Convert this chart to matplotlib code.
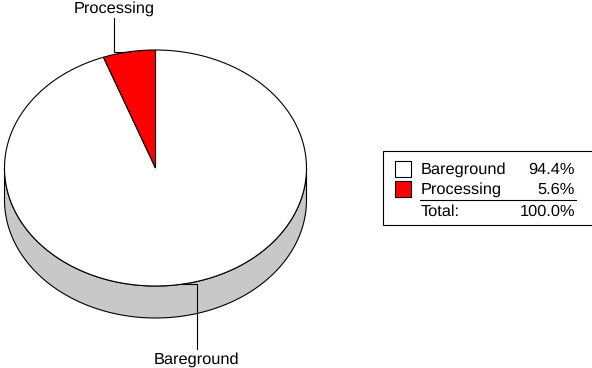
#!/usr/bin/env python3

import numpy as np
import matplotlib
matplotlib.use('Agg')
import matplotlib.pyplot as plt
from matplotlib.patches import Polygon, Rectangle

labels = ['Bareground', 'Processing']
shares = [94.4, 5.6]
share_text = ['94.4%', '5.6%']
total_label = 'Total:'
total_text = '100.0%'
colors = ['white', '#ff0000']

CX, CY = 155.5, 168
RX, RY = 151, 118
DEPTH = 32
FS = 11.8


def rim(a0, a1, n=200):
    # angles in degrees clockwise from the top of the pie
    t = np.radians(np.linspace(a0, a1, n))
    return CX + RX * np.sin(t), CY - RY * np.cos(t)


def elbow(ax, angle, x_end, y_end):
    x, y = rim(angle, angle, 1)
    ax.plot([x[0], x_end, x_end], [y[0], y[0], y_end], color='black', lw=0.8, zorder=5)


def main():
    plt.rcParams['font.family'] = ['Liberation Sans', 'DejaVu Sans']
    plt.rcParams['text.hinting'] = 'none'
    fig = plt.figure(figsize=(5.92, 3.68), dpi=100)
    ax = fig.add_axes([0, 0, 1, 1])
    ax.set_xlim(0, 592)
    ax.set_ylim(368, 0)
    ax.axis('off')

    # side of the disc
    x, y = rim(90, 270)
    side = np.vstack([np.c_[x, y], np.c_[x[::-1], y[::-1] + DEPTH]])
    ax.add_patch(Polygon(side, closed=True, fc='#c8c8c8', ec='black', lw=0.8, zorder=1))

    # slices, Processing runs back from the top
    proc_angle = shares[1] / sum(shares) * 360
    x, y = rim(0, 360 - proc_angle)
    ax.add_patch(Polygon(np.vstack([[CX, CY], np.c_[x, y]]), closed=True,
                         fc=colors[0], ec='black', lw=0.8, zorder=2))
    x, y = rim(360 - proc_angle, 360, 40)
    ax.add_patch(Polygon(np.vstack([[CX, CY], np.c_[x, y]]), closed=True,
                         fc=colors[1], ec='black', lw=0.8, zorder=3))

    elbow(ax, 360 - proc_angle / 2, 114, 18)
    elbow(ax, (360 - proc_angle) / 2, 196.5, 349)
    ax.text(114, 9, labels[1], ha='center', va='center', fontsize=FS, color='black')
    ax.text(196.5, 360, labels[0], ha='center', va='center', fontsize=FS, color='black')

    # legend table, its right edge falls outside the picture
    ax.add_patch(Rectangle((382.5, 151), 230, 74, fc='white', ec='black', lw=0.8, zorder=1))
    rows = [168.5, 188.7]
    for i, row in enumerate(rows):
        ax.add_patch(Rectangle((394.5, row - 8), 16, 16, fc=colors[i], ec='black', lw=0.8, zorder=2))
        ax.text(420.5, row + 1, labels[i], ha='left', va='center', fontsize=FS)
        ax.text(575, row + 1, share_text[i], ha='right', va='center', fontsize=FS)
    ax.plot([420, 576], [200, 200], color='black', lw=0.8, zorder=2)
    ax.text(420.5, 212, total_label, ha='left', va='center', fontsize=FS)
    ax.text(575, 212, total_text, ha='right', va='center', fontsize=FS)

    fig.savefig('out.png', dpi=100)


if __name__ == "__main__":
    main()
